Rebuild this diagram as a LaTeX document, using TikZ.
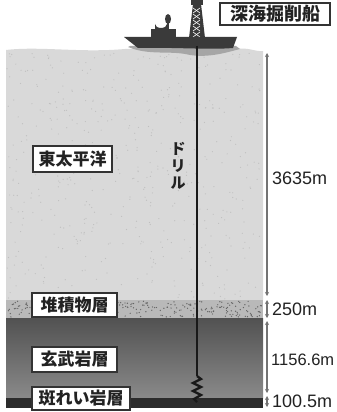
\documentclass[tikz,border=0pt]{standalone}
\usepackage{fontspec}
\setmainfont{Liberation Sans}
\newfontfamily\jp{Noto Sans CJK JP}
\usetikzlibrary{arrows.meta}
\definecolor{sea}{HTML}{D9D9D9}
\definecolor{sediment}{HTML}{B9B9B9}
\definecolor{gabbro}{HTML}{2C2C2C}
\definecolor{hull}{HTML}{3A3A3A}
\definecolor{ink}{HTML}{222222}
\tikzset{
  labelbox/.style={draw=black!80, line width=1.4pt, fill=white, inner sep=0pt,
    text=ink, font=\jp\bfseries\fontsize{17}{17}\selectfont},
  depth/.style={anchor=west, text=ink, inner sep=0pt,
    font=\fontsize{18}{18}\selectfont},
  dimline/.style={draw=black!55, line width=1.1pt,
    {Stealth[length=4pt,width=4pt]}-{Stealth[length=4pt,width=4pt]}},
  drill/.style={draw=black!90, line width=2.6pt},
}
\begin{document}
\begin{tikzpicture}[x=1pt,y=-1pt]
\useasboundingbox (0,0) rectangle (337,412);
\fill[white] (0,0) rectangle (337,412);

% sea water with a slightly wavy surface
\fill[sea] (6,50) .. controls (40,46) and (80,53) .. (125,49)
  -- (236,49) .. controls (248,47) and (256,52) .. (263,51)
  -- (263,300) -- (6,300) -- cycle;
\pgfmathsetseed{11}
\foreach \i in {1,...,500}{
  \pgfmathsetmacro\rx{7+255*rnd}
  \pgfmathsetmacro\ry{53+246*rnd}
  \fill[black!25] (\rx,\ry) circle (0.6);
}

% sediment layer with speckles
\fill[sediment] (6,300) rectangle (263,318);
\foreach \i in {1,...,260}{
  \pgfmathsetmacro\rx{7+255*rnd}
  \pgfmathsetmacro\ry{301+16*rnd}
  \fill[black!60] (\rx,\ry) circle (0.7);
}

% basalt and gabbro
\shade[top color=black!68, bottom color=black!46] (6,318) rectangle (263,398);
\fill[gabbro] (6,398) rectangle (263,408);

% wake under the ship
\fill[black!35] (128,47) .. controls (150,56) and (170,50) .. (190,55)
  .. controls (210,58) and (228,52) .. (240,49) -- (236,46) -- (130,46) -- cycle;

% derrick tower
\fill[hull] (189,38) -- (193,4) -- (201,4) -- (205,38) -- cycle;
\fill[hull] (191,0) rectangle (203,5);
\foreach \y in {8,14,20,26,32}{
  \draw[white, line width=0.6pt] (193,\y) -- (200,\y+5);
  \draw[white, line width=0.6pt] (200,\y) -- (193,\y+5);
}

% superstructure and mast
\fill[hull] (151,29) rectangle (176,38);
\fill[hull] (155,30) -- (155,24) arc[start angle=180, end angle=0, x radius=6, y radius=4] -- (167,30) -- cycle;
\draw[hull, line width=1.5pt] (168,31) -- (168,18);
\fill[hull] (168,19) ellipse[x radius=3, y radius=5];

% hull
\fill[hull] (124,37) -- (237,37) -- (233,48) .. controls (210,50) and (170,47) .. (138,48) -- cycle;

% drill string and bit
\coordinate (drilltop) at (197,46);
\coordinate (bittop) at (197,376);
\draw[drill] (drilltop) -- (bittop);
\draw[drill, line width=2.3pt, line join=miter] (bittop) -- (201,379) -- (193,383) -- (201,387)
  -- (193,391) -- (201,395) -- (194,399) -- (197,402);

% depth dimensions
\coordinate (d0) at (267,53);
\coordinate (d1) at (267,296);
\coordinate (d2) at (267,300);
\coordinate (d3) at (267,318);
\coordinate (d4) at (267,321);
\coordinate (d5) at (267,393);
\coordinate (d6) at (267,396);
\coordinate (d7) at (267,407);
\draw[dimline] (d0) -- (d1);
\draw[dimline] (d2) -- (d3);
\draw[dimline] (d4) -- (d5);
\draw[dimline] (d6) -- (d7);

\node[depth] (dsea) at (272,178) {3635m};
\node[depth] (dsed) at (272,309) {250m};
\node[depth, font=\fontsize{16.5}{16.5}\selectfont] (dbas) at (271,360) {1156.6m};
\node[depth] (dgab) at (272,401) {100.5m};

% labels
\node[labelbox, minimum width=110, minimum height=22,
  font=\jp\bfseries\fontsize{18}{18}\selectfont] (ship) at (275,14) {深海掘削船};
\node[labelbox, minimum width=79, minimum height=26] (ocean) at (72.5,159) {東太平洋};
\node[labelbox, minimum width=85, minimum height=24] (sed) at (74.5,305) {堆積物層};
\node[labelbox, minimum width=85, minimum height=25] (bas) at (74.5,359.5) {玄武岩層};
\node[labelbox, minimum width=98, minimum height=23] (gab) at (81,398.5) {斑れい岩層};

\node[text=ink, inner sep=0pt, align=center,
  font=\jp\bfseries\fontsize{15}{17}\selectfont] (drilltext) at (178,166) {ド\\リ\\ル};
\end{tikzpicture}
\end{document}
